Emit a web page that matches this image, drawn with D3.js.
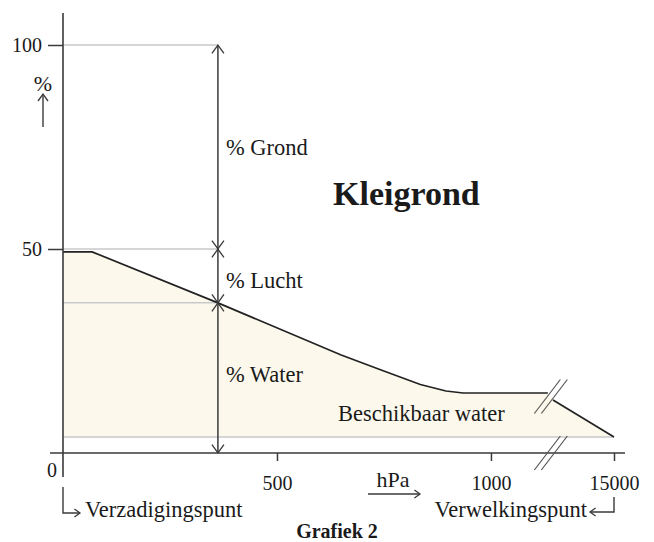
<!DOCTYPE html>
<html>
<head>
<meta charset="utf-8">
<script src="https://cdn.jsdelivr.net/npm/d3@7"></script>
<style>
    body { margin: 0; background: #fff; }
    svg text { font-family: "Liberation Serif", "Times New Roman", serif; fill: #1a1a1a; }
</style>
</head>
<body>
<svg id="chart" width="654" height="542"></svg>
<script>
// water content (%) against suction (hPa)
const pressure = [0, 68, 362, 650, 745, 835, 895, 935, 1133];
const water = [49.3, 49.3, 36.8, 24, 20.3, 16.8, 15.2, 14.7, 14.7];
// part behind the axis break
const pressureDry = [1145, 15000];
const waterDry = [13, 3.9];

const xTicks = [0, 500, 1000, 15000];
const yTicks = [50, 100];
const wiltingLevel = 3.9;
const breakAt = 1140;

// the vertical arrow splitting the soil in grond / lucht / water
const sampleAt = 362;
const sampleLevels = [0, 36.8, 50, 100];
const sampleNames = ['% Water', '% Lucht', '% Grond'];

let svg = d3.select('#chart');

let x = d3.scaleLinear()
    .domain([0, 1145, 15000])
    .range([63, 553, 614]);

let y = d3.scaleLinear()
    .domain([0, 100])
    .range([453, 45]);

let ink = '#3a3a3a';
let grid = '#c9c9c9';

// open arrow head, dir = up / down / left / right
function head(g, px, py, dir, s) {
    s = s || 6;
    let pts;
    if (dir === 'up') pts = [[px - s, py + s * 1.4], [px, py], [px + s, py + s * 1.4]];
    if (dir === 'down') pts = [[px - s, py - s * 1.4], [px, py], [px + s, py - s * 1.4]];
    if (dir === 'right') pts = [[px - s * 1.4, py - s], [px, py], [px - s * 1.4, py + s]];
    if (dir === 'left') pts = [[px + s * 1.4, py - s], [px, py], [px + s * 1.4, py + s]];
    g.append('path')
        .attr('d', d3.line()(pts))
        .style('fill', 'none')
        .style('stroke', ink)
        .style('stroke-width', 1.3);
}

let wet = pressure.map(function(p, i) { return {p: p, v: water[i]}; });
let dry = pressureDry.map(function(p, i) { return {p: p, v: waterDry[i]}; });

// cream area between curve and wilting point
let area = d3.area()
    .x(function(d) { return x(d.p); })
    .y0(y(wiltingLevel))
    .y1(function(d) { return y(d.v); });

svg.append('path')
    .attr('d', area(wet.concat(dry)))
    .style('fill', '#fcf9ec');

// grey helper lines
[100, 50, sampleLevels[1]].forEach(function(v) {
    svg.append('line')
        .attr('x1', x(0)).attr('x2', x(sampleAt))
        .attr('y1', y(v)).attr('y2', y(v))
        .style('stroke', grid).style('stroke-width', 1.5);
});
svg.append('line')
    .attr('x1', x(0)).attr('x2', x(15000))
    .attr('y1', y(wiltingLevel)).attr('y2', y(wiltingLevel))
    .style('stroke', grid).style('stroke-width', 1.5);

// the curve
let line = d3.line()
    .x(function(d) { return x(d.p); })
    .y(function(d) { return y(d.v); });

[wet, dry].forEach(function(seg) {
    svg.append('path')
        .datum(seg)
        .attr('d', line)
        .style('fill', 'none')
        .style('stroke', '#222')
        .style('stroke-width', 1.7);
});

// axes
let xAxis = svg.append('g')
    .attr('transform', 'translate(0,' + y(0) + ')')
    .call(d3.axisBottom(x).tickValues(xTicks.slice(1)).tickSize(8).tickPadding(15)
        .tickFormat(d3.format('d')));

let yAxis = svg.append('g')
    .attr('transform', 'translate(' + x(0) + ',0)')
    .call(d3.axisLeft(y).tickValues(yTicks).tickSize(15).tickPadding(6));

[xAxis, yAxis].forEach(function(a) {
    a.select('.domain').remove();
    a.selectAll('line').style('stroke', ink).style('stroke-width', 1.5);
    a.selectAll('text').style('font-size', '20px').attr('font-family', null);
});

svg.append('line')
    .attr('x1', 50).attr('x2', 625)
    .attr('y1', y(0)).attr('y2', y(0))
    .style('stroke', ink).style('stroke-width', 1.6);
svg.append('line')
    .attr('x1', x(0)).attr('x2', x(0))
    .attr('y1', 13).attr('y2', 477)
    .style('stroke', ink).style('stroke-width', 1.6);

svg.append('text')
    .attr('x', 52).attr('y', 477)
    .attr('text-anchor', 'middle')
    .style('font-size', '20px')
    .text(xTicks[0]);

// axis breaks
[y(0), (y(water[water.length - 1]) + y(waterDry[0])) / 2].forEach(function(cy) {
    [-3.5, 3.5].forEach(function(dx) {
        let cx = x(breakAt) + dx;
        svg.append('line')
            .attr('x1', cx - 13).attr('y1', cy + 17)
            .attr('x2', cx + 13).attr('y2', cy - 17)
            .style('stroke', '#555').style('stroke-width', 1.2);
    });
});

// sample arrow
let ax = x(sampleAt);
svg.append('line')
    .attr('x1', ax).attr('x2', ax)
    .attr('y1', y(0)).attr('y2', y(100))
    .style('stroke', ink).style('stroke-width', 1.5);
head(svg, ax, y(100), 'up');
head(svg, ax, y(0), 'down');
[sampleLevels[1], sampleLevels[2]].forEach(function(v) {
    head(svg, ax, y(v), 'up');
    head(svg, ax, y(v), 'down');
});

let nameY = [382, 288, 155];
sampleNames.forEach(function(n, i) {
    svg.append('text')
        .attr('x', ax + 8).attr('y', nameY[i])
        .style('font-size', '22.5px')
        .text(n);
});

svg.append('text')
    .attr('x', 338).attr('y', 421)
    .style('font-size', '22.5px')
    .text('Beschikbaar water');

svg.append('text')
    .attr('x', 333).attr('y', 205)
    .style('font-size', '34px')
    .style('font-weight', 'bold')
    .text('Kleigrond');

// y label with arrow
svg.append('text')
    .attr('x', 43).attr('y', 91)
    .attr('text-anchor', 'middle')
    .style('font-size', '22px')
    .text('%');
svg.append('line')
    .attr('x1', 43).attr('x2', 43).attr('y1', 127).attr('y2', 94)
    .style('stroke', ink).style('stroke-width', 1.4);
head(svg, 43, 94, 'up', 5);

// hPa with arrow
svg.append('text')
    .attr('x', 393).attr('y', 487)
    .attr('text-anchor', 'middle')
    .style('font-size', '22px')
    .text('hPa');
svg.append('line')
    .attr('x1', 368).attr('x2', 420).attr('y1', 494).attr('y2', 494)
    .style('stroke', ink).style('stroke-width', 1.4);
head(svg, 420, 494, 'right', 4);

// end points of the range
svg.append('path')
    .attr('d', d3.line()([[x(0), 487], [x(0), 513], [80, 513]]))
    .style('fill', 'none').style('stroke', ink).style('stroke-width', 1.4);
head(svg, 80, 513, 'right', 4);
svg.append('text')
    .attr('x', 85).attr('y', 517)
    .style('font-size', '22.5px')
    .text('Verzadigingspunt');

svg.append('path')
    .attr('d', d3.line()([[x(15000), 497], [x(15000), 512], [590, 512]]))
    .style('fill', 'none').style('stroke', ink).style('stroke-width', 1.4);
head(svg, 590, 512, 'left', 4);
svg.append('text')
    .attr('x', 587).attr('y', 517)
    .attr('text-anchor', 'end')
    .style('font-size', '22.5px')
    .text('Verwelkingspunt');

svg.append('text')
    .attr('x', 337).attr('y', 538)
    .attr('text-anchor', 'middle')
    .style('font-size', '20px')
    .style('font-weight', 'bold')
    .text('Grafiek 2');
</script>
</body>
</html>
